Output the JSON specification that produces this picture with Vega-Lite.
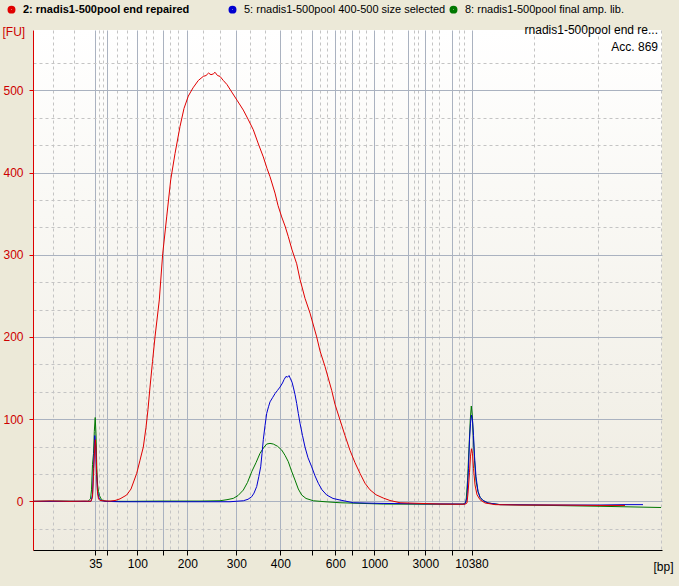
{
  "$schema": "https://vega.github.io/schema/vega-lite/v6.json",
  "autosize": {"type": "none"},
  "padding": {"left": 33, "top": 30, "right": 17, "bottom": 36},
  "width": 629,
  "height": 520,
  "background": "#ECE9D8",
  "config": {
    "view": {"stroke": null, "fill": {"gradient": "linear", "x1": 0, "y1": 0, "x2": 0, "y2": 1, "stops": [{"offset": 0, "color": "#FFFFFF"}, {"offset": 1, "color": "#EEEBE0"}]}},
    "font": "Liberation Sans"
  },
  "data": {"values": [
    {"s":"8","t":33,"fu":0},{"s":"8","t":60,"fu":0.3},{"s":"8","t":80,"fu":0},{"s":"8","t":88,"fu":0},{"s":"8","t":90.5,"fu":3},{"s":"8","t":91.5,"fu":14},{"s":"8","t":92.5,"fu":45},{"s":"8","t":93.5,"fu":58},{"s":"8","t":94.3,"fu":85},{"s":"8","t":95.2,"fu":102},{"s":"8","t":96,"fu":82},{"s":"8","t":96.8,"fu":40},{"s":"8","t":97.6,"fu":20},{"s":"8","t":98.5,"fu":12},{"s":"8","t":99.5,"fu":7},{"s":"8","t":101,"fu":3},{"s":"8","t":103,"fu":1},{"s":"8","t":107,"fu":0},{"s":"8","t":130,"fu":0},{"s":"8","t":160,"fu":0.3},{"s":"8","t":200,"fu":0.3},{"s":"8","t":220,"fu":0.7},{"s":"8","t":227,"fu":2},{"s":"8","t":233.3,"fu":3.6},{"s":"8","t":238,"fu":7},{"s":"8","t":243.3,"fu":13.7},{"s":"8","t":247.5,"fu":23},{"s":"8","t":251.7,"fu":36},{"s":"8","t":256,"fu":47},{"s":"8","t":260,"fu":58.4},{"s":"8","t":263.5,"fu":65},{"s":"8","t":266.7,"fu":69.7},{"s":"8","t":270,"fu":70.5},{"s":"8","t":273.3,"fu":69.7},{"s":"8","t":277.5,"fu":67},{"s":"8","t":281.7,"fu":62.4},{"s":"8","t":285,"fu":56},{"s":"8","t":288.3,"fu":48.2},{"s":"8","t":291.5,"fu":37},{"s":"8","t":295,"fu":25.9},{"s":"8","t":298.3,"fu":15},{"s":"8","t":301.7,"fu":7.7},{"s":"8","t":306,"fu":3.5},{"s":"8","t":313.3,"fu":0.7},{"s":"8","t":325,"fu":-0.5},{"s":"8","t":340,"fu":-1.7},{"s":"8","t":383.3,"fu":-3.3},{"s":"8","t":420,"fu":-3.5},{"s":"8","t":463,"fu":-3.5},{"s":"8","t":466,"fu":-1},{"s":"8","t":467.5,"fu":25},{"s":"8","t":469,"fu":65},{"s":"8","t":470.3,"fu":100},{"s":"8","t":471.3,"fu":116},{"s":"8","t":472.3,"fu":104},{"s":"8","t":473.3,"fu":80},{"s":"8","t":474.5,"fu":50},{"s":"8","t":476,"fu":25},{"s":"8","t":478,"fu":12},{"s":"8","t":480,"fu":5},{"s":"8","t":483,"fu":1},{"s":"8","t":488,"fu":-2},{"s":"8","t":500,"fu":-4},{"s":"8","t":550,"fu":-5},{"s":"8","t":600,"fu":-6},{"s":"8","t":640,"fu":-7},{"s":"8","t":661,"fu":-7.5},
    {"s":"5","t":33,"fu":0},{"s":"5","t":60,"fu":0},{"s":"5","t":85,"fu":0},{"s":"5","t":91,"fu":0},{"s":"5","t":92.5,"fu":8},{"s":"5","t":93.5,"fu":40},{"s":"5","t":94.7,"fu":80},{"s":"5","t":95.6,"fu":70},{"s":"5","t":96.5,"fu":35},{"s":"5","t":97.5,"fu":12},{"s":"5","t":99,"fu":4},{"s":"5","t":101,"fu":1},{"s":"5","t":105,"fu":0},{"s":"5","t":120,"fu":-0.5},{"s":"5","t":150,"fu":-0.5},{"s":"5","t":200,"fu":-0.5},{"s":"5","t":230,"fu":-0.5},{"s":"5","t":243.3,"fu":0.7},{"s":"5","t":248,"fu":2.5},{"s":"5","t":251.7,"fu":5.6},{"s":"5","t":254,"fu":10},{"s":"5","t":256.7,"fu":18},{"s":"5","t":258.8,"fu":30},{"s":"5","t":260.7,"fu":42},{"s":"5","t":262,"fu":58},{"s":"5","t":263.3,"fu":75},{"s":"5","t":265,"fu":92},{"s":"5","t":266.7,"fu":107},{"s":"5","t":268.5,"fu":115},{"s":"5","t":270,"fu":121},{"s":"5","t":272.5,"fu":126},{"s":"5","t":275,"fu":131},{"s":"5","t":277.5,"fu":135},{"s":"5","t":280,"fu":139},{"s":"5","t":282.5,"fu":144},{"s":"5","t":284,"fu":148},{"s":"5","t":286,"fu":152},{"s":"5","t":287.5,"fu":151},{"s":"5","t":289,"fu":153},{"s":"5","t":290.5,"fu":149},{"s":"5","t":292,"fu":145},{"s":"5","t":293.3,"fu":139},{"s":"5","t":295,"fu":130},{"s":"5","t":296.7,"fu":119},{"s":"5","t":298.3,"fu":107},{"s":"5","t":300,"fu":95},{"s":"5","t":302.5,"fu":80},{"s":"5","t":305,"fu":66},{"s":"5","t":308,"fu":53},{"s":"5","t":311.7,"fu":42},{"s":"5","t":315,"fu":31},{"s":"5","t":318.3,"fu":22},{"s":"5","t":322,"fu":14},{"s":"5","t":326.7,"fu":7.7},{"s":"5","t":333,"fu":3.5},{"s":"5","t":340,"fu":1.6},{"s":"5","t":353.3,"fu":-1.7},{"s":"5","t":380,"fu":-2.5},{"s":"5","t":420,"fu":-3},{"s":"5","t":465,"fu":-3.3},{"s":"5","t":467,"fu":5},{"s":"5","t":468.5,"fu":40},{"s":"5","t":469.5,"fu":75},{"s":"5","t":470.5,"fu":95},{"s":"5","t":471.5,"fu":105},{"s":"5","t":472.5,"fu":98},{"s":"5","t":473.5,"fu":80},{"s":"5","t":474.5,"fu":55},{"s":"5","t":476,"fu":30},{"s":"5","t":478,"fu":12},{"s":"5","t":480,"fu":5},{"s":"5","t":483,"fu":1},{"s":"5","t":488,"fu":-2},{"s":"5","t":500,"fu":-4},{"s":"5","t":560,"fu":-4.5},{"s":"5","t":600,"fu":-4.5},{"s":"5","t":625,"fu":-4},{"s":"5","t":643,"fu":-4},
    {"s":"2","t":33,"fu":0},{"s":"2","t":50,"fu":0.5},{"s":"2","t":70,"fu":0},{"s":"2","t":85,"fu":0.3},{"s":"2","t":91,"fu":0},{"s":"2","t":92.5,"fu":5},{"s":"2","t":93.5,"fu":30},{"s":"2","t":94.5,"fu":60},{"s":"2","t":95.3,"fu":75},{"s":"2","t":96,"fu":65},{"s":"2","t":96.8,"fu":30},{"s":"2","t":97.5,"fu":10},{"s":"2","t":98.5,"fu":3},{"s":"2","t":100,"fu":1},{"s":"2","t":105,"fu":0.5},{"s":"2","t":110,"fu":0.3},{"s":"2","t":115,"fu":1},{"s":"2","t":120,"fu":3},{"s":"2","t":126.7,"fu":7.7},{"s":"2","t":131,"fu":15},{"s":"2","t":136.7,"fu":34},{"s":"2","t":140,"fu":50},{"s":"2","t":143.3,"fu":66},{"s":"2","t":146,"fu":90},{"s":"2","t":148,"fu":112},{"s":"2","t":150,"fu":139},{"s":"2","t":152.5,"fu":170},{"s":"2","t":155,"fu":200},{"s":"2","t":159.3,"fu":245},{"s":"2","t":162.7,"fu":301},{"s":"2","t":166.7,"fu":346},{"s":"2","t":170.7,"fu":391},{"s":"2","t":175,"fu":423},{"s":"2","t":180,"fu":456},{"s":"2","t":184,"fu":478},{"s":"2","t":188.3,"fu":493},{"s":"2","t":193,"fu":503},{"s":"2","t":198.3,"fu":512},{"s":"2","t":203.3,"fu":517},{"s":"2","t":206,"fu":518},{"s":"2","t":208.5,"fu":521},{"s":"2","t":211,"fu":519},{"s":"2","t":213.3,"fu":520},{"s":"2","t":215,"fu":522},{"s":"2","t":217.5,"fu":518},{"s":"2","t":220,"fu":517},{"s":"2","t":223.3,"fu":512},{"s":"2","t":227,"fu":507},{"s":"2","t":231.7,"fu":498},{"s":"2","t":237,"fu":488},{"s":"2","t":243.3,"fu":476},{"s":"2","t":248,"fu":465},{"s":"2","t":253.3,"fu":452},{"s":"2","t":258,"fu":436},{"s":"2","t":263.3,"fu":419},{"s":"2","t":267,"fu":405},{"s":"2","t":270,"fu":395},{"s":"2","t":275,"fu":375},{"s":"2","t":278,"fu":360},{"s":"2","t":281.7,"fu":346},{"s":"2","t":285,"fu":335},{"s":"2","t":288.3,"fu":322},{"s":"2","t":292,"fu":306},{"s":"2","t":296.7,"fu":289},{"s":"2","t":300,"fu":270},{"s":"2","t":305,"fu":247},{"s":"2","t":310,"fu":229},{"s":"2","t":316.7,"fu":200},{"s":"2","t":320,"fu":183},{"s":"2","t":325,"fu":164},{"s":"2","t":331.7,"fu":135},{"s":"2","t":335,"fu":118},{"s":"2","t":340,"fu":99},{"s":"2","t":345,"fu":80},{"s":"2","t":350,"fu":62},{"s":"2","t":355,"fu":47},{"s":"2","t":360,"fu":34},{"s":"2","t":365,"fu":22},{"s":"2","t":370,"fu":14},{"s":"2","t":376,"fu":8},{"s":"2","t":383.3,"fu":4},{"s":"2","t":390,"fu":1},{"s":"2","t":400,"fu":-1.7},{"s":"2","t":420,"fu":-2.5},{"s":"2","t":440,"fu":-3.3},{"s":"2","t":455,"fu":-3.5},{"s":"2","t":465,"fu":-3.5},{"s":"2","t":467,"fu":-2},{"s":"2","t":468,"fu":10},{"s":"2","t":469.5,"fu":35},{"s":"2","t":470.5,"fu":55},{"s":"2","t":471.5,"fu":64},{"s":"2","t":472.5,"fu":58},{"s":"2","t":473.5,"fu":40},{"s":"2","t":475,"fu":20},{"s":"2","t":477,"fu":8},{"s":"2","t":480,"fu":2},{"s":"2","t":485,"fu":-2},{"s":"2","t":495,"fu":-4},{"s":"2","t":520,"fu":-4.5},{"s":"2","t":560,"fu":-4.5},{"s":"2","t":600,"fu":-5},{"s":"2","t":625,"fu":-5}
  ]},
  "layer": [
    {
      "mark": {"type": "point", "opacity": 0},
      "encoding": {
        "x": {"field": "t", "type": "quantitative", "scale": {"domain": [33, 662], "nice": false, "zero": false},
          "axis": {"orient": "bottom", "values": [53.3, 74.3, 99.3, 102.7, 117.3, 127.3, 145.7, 153.3, 170.3, 178.3, 203.3, 220, 250.3, 265.3, 290.7, 300.7, 320.3, 327, 340.3, 345, 359, 365.7, 384, 391.7, 413.7, 417.7, 431.7, 439, 459, 464, 534, 597.7, 661],
            "grid": true, "gridColor": "#C4C4C4", "gridDash": [3, 3], "gridWidth": 1, "labels": false, "ticks": false, "domain": false, "title": null}},
        "y": {"field": "fu", "type": "quantitative", "scale": {"domain": [-59.2, 573.4], "nice": false, "zero": false},
          "axis": {"orient": "left", "values": [-33.3, 33.3, 66.7, 133.3, 166.7, 233.3, 266.7, 333.3, 366.7, 433.3, 466.7, 533.3],
            "grid": true, "gridColor": "#C4C4C4", "gridDash": [3, 3], "gridWidth": 1, "labels": false, "ticks": false, "domain": false, "title": null}}
      }
    },
    {
      "mark": {"type": "line", "strokeWidth": 1, "interpolate": "linear"},
      "encoding": {
        "x": {"field": "t", "type": "quantitative",
          "axis": {"orient": "bottom", "values": [95.3, 107.3, 137.3, 162.7, 187.3, 236.3, 280.3, 311.7, 335.3, 352.3, 374.3, 408.3, 425.3, 452.3, 471.5],
            "labelExpr": "['35','','100','','200','300','400','','600','','1000','','3000','','10380'][indexof([95.3, 107.3, 137.3, 162.7, 187.3, 236.3, 280.3, 311.7, 335.3, 352.3, 374.3, 408.3, 425.3, 452.3, 471.5], datum.value)]",
            "grid": true, "gridColor": "#AAB2C0", "gridWidth": 1, "domainColor": "#000000", "domainWidth": 1, "tickColor": "#000000", "tickSize": 5,
            "labelColor": "#000000", "labelFont": "Liberation Sans", "labelFontSize": 12, "labelPadding": 3, "labelFlush": false, "labelOverlap": false,
            "title": "[bp]", "titleFont": "Liberation Sans", "titleFontSize": 12, "titleFontWeight": "normal", "titleColor": "#000000",
            "titleAnchor": null, "titleAlign": "right", "titleBaseline": "alphabetic", "titleX": 640, "titleY": 20}},
        "y": {"field": "fu", "type": "quantitative",
          "axis": {"orient": "left", "values": [0, 100, 200, 300, 400, 500],
            "grid": true, "gridColor": "#AAB2C0", "gridWidth": 1, "domainColor": "#DD0000", "domainWidth": 1, "tickColor": "#DD0000", "tickSize": 4,
            "labelColor": "#CC0000", "labelFont": "Liberation Sans", "labelFontSize": 12, "labelPadding": 6,
            "title": "[FU]", "titleFont": "Liberation Sans", "titleFontSize": 12, "titleFontWeight": "normal", "titleColor": "#CC0000",
            "titleAngle": 0, "titleAnchor": null, "titleAlign": "left", "titleBaseline": "alphabetic", "titleX": -31, "titleY": 5}},
        "color": {"field": "s", "type": "nominal",
          "scale": {"domain": ["2", "5", "8"], "range": ["#E00000", "#0000D0", "#007800"]},
          "legend": {"orient": "none", "legendX": -27, "legendY": -26, "direction": "horizontal", "title": null,
            "symbolType": "circle", "symbolSize": 20, "symbolStrokeWidth": 3.5, "symbolOpacity": 1,
            "labelFont": "Liberation Sans", "labelFontSize": 11, "labelColor": "#000000", "labelOffset": 6, "labelLimit": 400,
            "labelFontWeight": {"expr": "datum.value === '2' ? 'bold' : 'normal'"},
            "labelExpr": "datum.value === '2' ? '2: rnadis1-500pool end repaired' : datum.value === '5' ? '5: rnadis1-500pool 400-500 size selected' : '8: rnadis1-500pool final amp. lib.'",
            "gridAlign": "all", "columnPadding": -2, "padding": 0}}
      }
    },
    {
      "data": {"values": [{}]},
      "mark": {"type": "text", "text": "rnadis1-500pool end re...", "align": "right", "baseline": "alphabetic", "font": "Liberation Sans", "fontSize": 12, "color": "#000000"},
      "encoding": {"x": {"datum": 658, "axis": null}, "y": {"datum": 568.5, "axis": null}}
    },
    {
      "data": {"values": [{}]},
      "mark": {"type": "text", "text": "Acc. 869", "align": "right", "baseline": "alphabetic", "font": "Liberation Sans", "fontSize": 12, "color": "#000000"},
      "encoding": {"x": {"datum": 658, "axis": null}, "y": {"datum": 547.9, "axis": null}}
    }
  ],
  "resolve": {"axis": {"x": "independent", "y": "independent"}}
}
